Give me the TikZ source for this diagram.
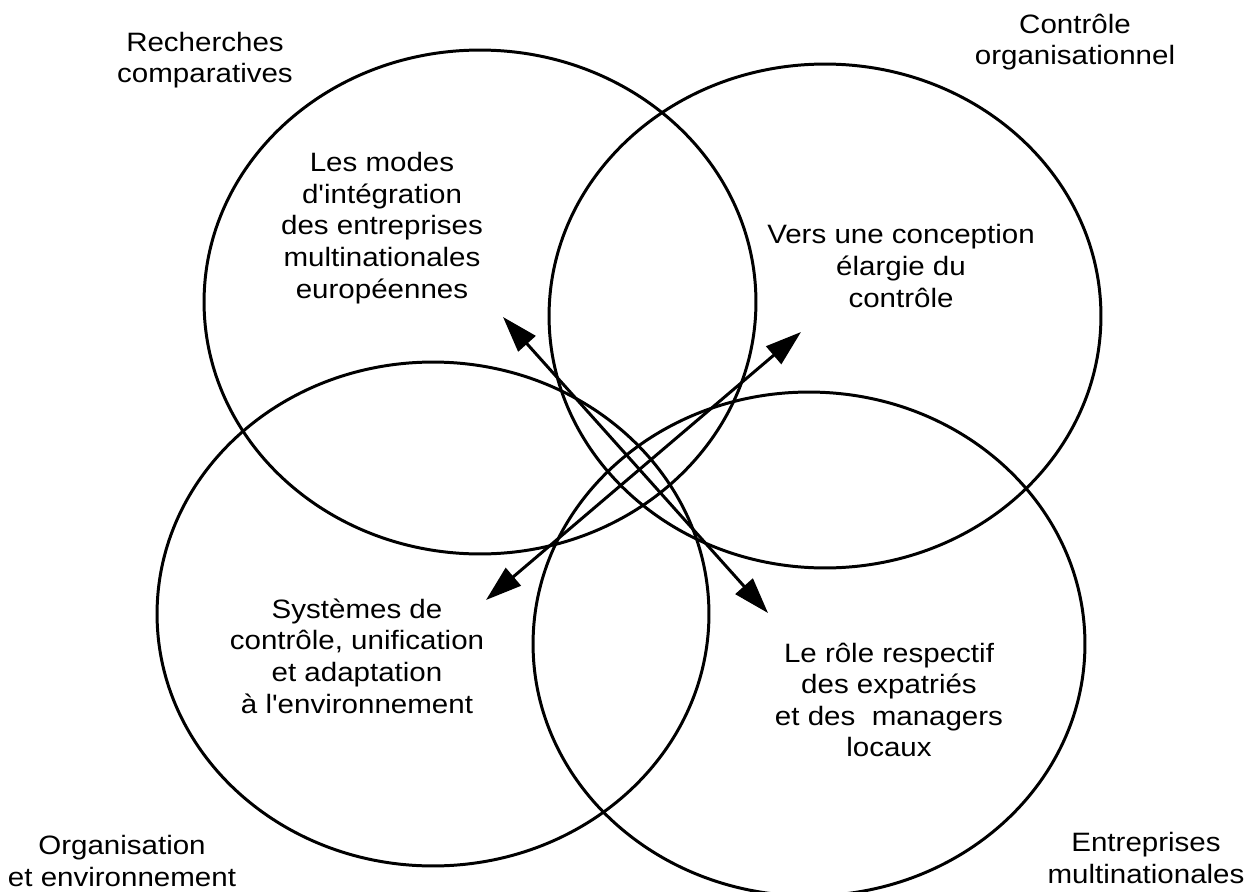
\documentclass[tikz,border=0pt]{standalone}
\usepackage{fontspec}
\setmainfont{Liberation Sans}
\usetikzlibrary{shapes.geometric, arrows.meta, positioning}

\tikzset{
    ring/.style={draw, ellipse, line width=1.7pt, minimum width=11.04cm, minimum height=10.08cm, inner sep=0pt},
    txt/.style={align=center, font=\fontsize{16.8}{20}\selectfont, yscale=0.9, inner sep=0pt},
    link/.style={line width=1.7pt, {Triangle[length=0.72cm,width=0.46cm]}-{Triangle[length=0.72cm,width=0.46cm]}},
}

\begin{document}
\begin{tikzpicture}[x=0.02cm, y=-0.02cm]
            \useasboundingbox (0,0) rectangle (1254,892);
            % the four fields
            \node[ring] (comp) at (480,302) {};
            \node[ring] (ctrl) at (825,316) {};
            \node[ring] (orga) at (433,614) {};
            \node[ring] (emn) at (809,644) {};
            % field names
            \node[txt] (compname) at (205,60) {Recherches\\comparatives};
            \node[txt] (ctrlname) at (1075,42) {Contr\^ole\\organisationnel};
            \node[txt] (organame) at (122,861) {Organisation\\et environnement};
            \node[txt] (emnname) at (1146,858) {Entreprises\\multinationales};
            % themes
            \node[txt] (modes) at (382,228) {Les modes\\d\textquotesingle int\'egration\\des entreprises\\multinationales\\europ\'eennes};
            \node[txt] (vers) at (901,266) {Vers une conception\\\'elargie du\\contr\^ole};
            \node[txt] (sys) at (357,656) {Syst\`emes de\\contr\^ole, unification\\et adaptation\\\`a l\textquotesingle environnement};
            \node[txt] (role) at (889,700) {Le r\^ole respectif\\des expatri\'es\\et des\ \ managers\\locaux};
            % arrow ends
            \coordinate (ul) at (503,317);
            \coordinate (lr) at (768,613);
            \coordinate (ll) at (486,600);
            \coordinate (ur) at (801,332);
            \draw[link] (ul) -- (lr);
            \draw[link] (ll) -- (ur);
        \end{tikzpicture}
\end{document}
